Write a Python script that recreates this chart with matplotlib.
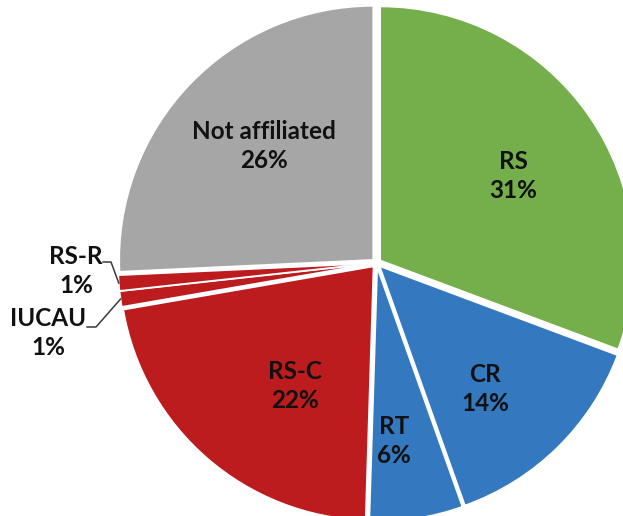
import numpy as np
import matplotlib.pyplot as plt

# affiliation shares (%)
groups = ['RS', 'CR', 'RT', 'RS-C', 'IUCAU', 'RS-R', 'Not affiliated']
shares = [31, 14, 6, 22, 1, 1, 26]
colors = ['#74AF4B', '#3479C0', '#3479C0', '#BC1C1E', '#BC1C1E', '#BC1C1E', '#A6A6A6']

W, H = 623, 516
fig = plt.figure(figsize=(W / 100, H / 100), dpi=100)
ax = fig.add_axes([0, 0, 1, 1])

cx, cy, R = 376.5, 253, 254
# pie explode is in data units here, so give it in pixels
wedges, _ = ax.pie(shares, colors=colors, startangle=90, counterclock=False,
                   center=(cx, cy), radius=R, explode=[4.5] * len(shares),
                   wedgeprops=dict(edgecolor='white', linewidth=1.2), frame=True)
ax.set_xlim(0, W)
ax.set_ylim(0, H)
ax.set_aspect('equal')
ax.axis('off')

txt = dict(ha='center', va='center', fontsize=17.5, fontweight='bold',
           family=['Lato', 'DejaVu Sans'], linespacing=1.3, color='#111111')

# label centres, pixel coords from top-left
label_pos = {'RS': (513, 176), 'CR': (485, 389), 'RT': (394, 441),
             'RS-C': (295, 386), 'Not affiliated': (264, 146),
             'RS-R': (76, 271), 'IUCAU': (48, 333)}
for g, v in zip(groups, shares):
    x, y = label_pos[g]
    ax.text(x, H - y, f'{g}\n{v}%', **txt)

# leader lines for the two thin slices
elbows = {'RS-R': [(103, 262), (111, 262)], 'IUCAU': [(87, 327), (96, 327)]}
for g, pts in elbows.items():
    w = wedges[groups.index(g)]
    mid = np.deg2rad((w.theta1 + w.theta2) / 2)
    ox, oy = w.center
    ex, ey = ox + w.r * np.cos(mid), oy + w.r * np.sin(mid)
    xs = [p[0] for p in pts] + [ex]
    ys = [H - p[1] for p in pts] + [ey]
    ax.plot(xs, ys, color='#3a3a3a', lw=1.1)

fig.savefig('out.png', dpi=100)
